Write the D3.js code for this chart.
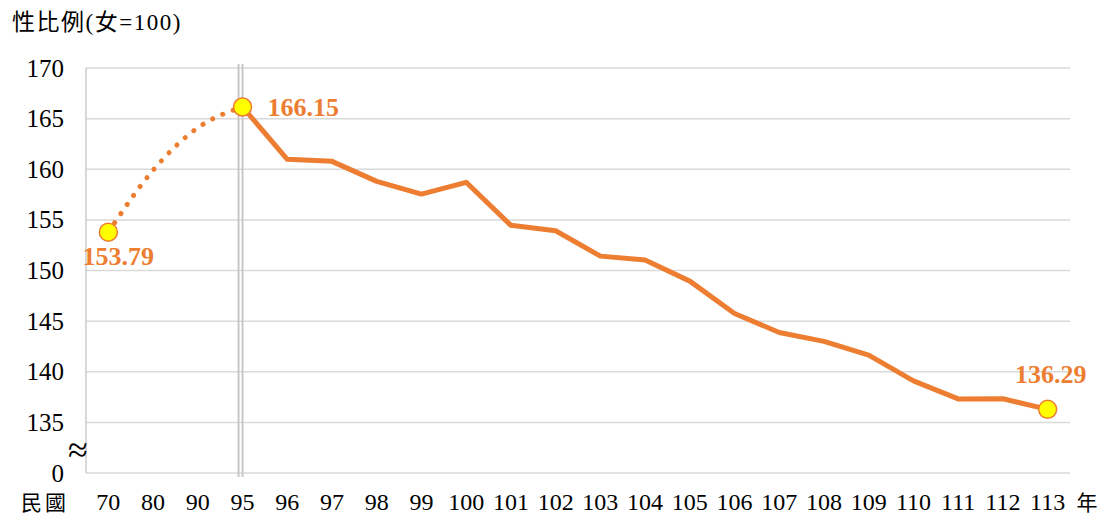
<!DOCTYPE html>
<html><head><meta charset="utf-8">
<script src="https://cdn.jsdelivr.net/npm/d3@7"></script>
<style>body{margin:0;background:#fff}</style>
</head><body>
<svg id="c" width="1105" height="518"></svg>
<script>
const categories = ["70","80","90","95","96","97","98","99","100","101","102","103","104","105","106","107","108","109","110","111","112","113"];
const estimatedYears = ["70","80","90","95"];
const estimatedValues = [153.79, 159.9, 164.1, 166.15];
const annualYears = ["95","96","97","98","99","100","101","102","103","104","105","106","107","108","109","110","111","112","113"];
const annualValues = [166.15,160.98,160.78,158.80,157.55,158.71,154.46,153.93,151.42,151.03,148.95,145.76,143.88,143.0,141.64,139.10,137.32,137.33,136.29];
const yTickValues = [130,135,140,145,150,155,160,165,170];
const yTickLabels = ["0","135","140","145","150","155","160","165","170"];
const labelled = [{year:"70",value:153.79},{year:"95",value:166.15},{year:"113",value:136.29}];

const svg = d3.select("#c");
const orange = "#ED7D31";
const serif = "'Liberation Serif','Times New Roman','Noto Sans CJK TC',serif";
const x = d3.scalePoint().domain(categories).range([86,1070]).padding(0.5);
const y = d3.scaleLinear().domain([130,170]).range([473,68]);

// gridlines
svg.append("g").selectAll("line").data(yTickValues).join("line")
  .attr("x1",86).attr("x2",1070).attr("y1",d=>y(d)).attr("y2",d=>y(d))
  .attr("stroke","#d9d9d9").attr("stroke-width",1.5);
// left axis line
svg.append("line").attr("x1",86).attr("x2",86).attr("y1",y(170)).attr("y2",y(130))
  .attr("stroke","#bfbfbf").attr("stroke-width",1.2);
// double separator line near 95
[x("95")-4, x("95")].forEach(px=>{
  svg.append("line").attr("x1",px).attr("x2",px).attr("y1",64).attr("y2",477)
    .attr("stroke","#c8c8c8").attr("stroke-width",2);
});

// y labels
svg.append("g").selectAll("text").data(yTickValues).join("text")
  .attr("x",64).attr("y",d=>y(d)+8.5).attr("text-anchor","end")
  .attr("font-family",serif).attr("font-size",25).attr("fill","#000")
  .text((d,i)=>yTickLabels[i]);
// break symbol
svg.append("text").attr("x",78).attr("y",462).attr("text-anchor","middle")
  .attr("font-family",serif).attr("font-size",36).attr("fill","#000").text("≈");

// x labels
svg.append("g").selectAll("text").data(categories).join("text")
  .attr("x",d=>x(d)).attr("y",510).attr("text-anchor","middle")
  .attr("font-family",serif).attr("font-size",24).attr("fill","#000").text(d=>d);
svg.append("text").attr("x",45).attr("y",510).attr("text-anchor","middle")
  .attr("font-family",serif).attr("font-size",21).attr("letter-spacing",3).attr("fill","#000").text("民國");
svg.append("text").attr("x",1087).attr("y",510).attr("text-anchor","middle")
  .attr("font-family",serif).attr("font-size",21).attr("fill","#000").text("年");
// title
svg.append("text").attr("x",12).attr("y",30)
  .attr("font-family",serif).attr("font-size",23).attr("letter-spacing",1.5).attr("fill","#000").text("性比例(女=100)");

// dotted estimated curve
svg.append("path").datum(estimatedYears.map((c,i)=>[x(c),y(estimatedValues[i])]))
  .attr("d",d3.line().curve(d3.curveMonotoneX))
  .attr("fill","none").attr("stroke",orange).attr("stroke-width",5)
  .attr("stroke-linecap","round").attr("stroke-dasharray","0.1 11");
// solid line
svg.append("path").datum(annualYears.map((c,i)=>[x(c),y(annualValues[i])]))
  .attr("d",d3.line())
  .attr("fill","none").attr("stroke",orange).attr("stroke-width",5).attr("stroke-linejoin","round");

// markers
svg.append("g").selectAll("circle").data(labelled).join("circle")
  .attr("cx",d=>x(d.year)).attr("cy",d=>y(d.value)).attr("r",9)
  .attr("fill","#FFFF00").attr("stroke",orange).attr("stroke-width",1.5);

// data labels
const offs = {"70":[10,33,"middle"],"95":[25,9,"start"],"113":[3,-26,"middle"]};
svg.append("g").selectAll("text").data(labelled).join("text")
  .attr("x",d=>x(d.year)+offs[d.year][0]).attr("y",d=>y(d.value)+offs[d.year][1])
  .attr("text-anchor",d=>offs[d.year][2])
  .attr("font-family",serif).attr("font-weight","bold").attr("font-size",26).attr("fill",orange)
  .text(d=>d.value.toFixed(2));
</script>
</body></html>
